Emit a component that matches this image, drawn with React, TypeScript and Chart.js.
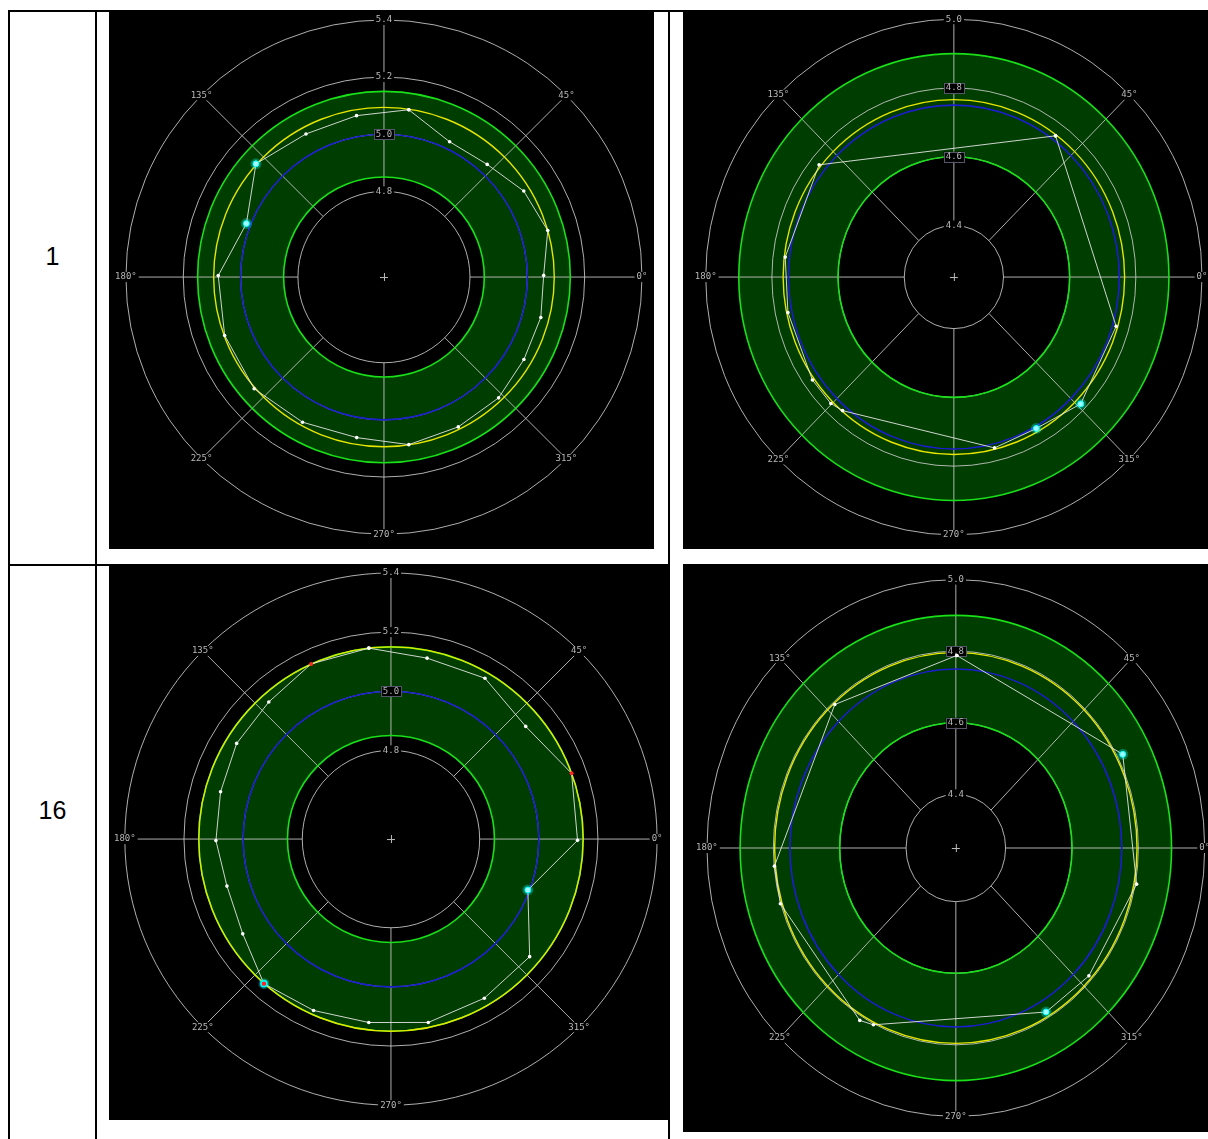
import React, { useEffect, useRef } from "react";
import { Chart, registerables } from "chart.js";

Chart.register(...registerables);

// ---------- shared labels ----------
const ROW_LABELS = ["1", "16"];
const ANGLE_LABELS = ["0°", "45°", "135°", "180°", "225°", "270°", "315°"];
const ANGLE_LABEL_DEG = [0, 45, 135, 180, 225, 270, 315];
const SPOKE_DEG = [0, 45, 90, 135, 180, 225, 270, 315];

// ---------- panel A (row 1, left) ----------
const A_ANGLES = [81.6, 99.6, 118.5, 138.4, 158.7, 179.5, 200.2, 220.8, 240.8, 260.4, 278.4, 296.3, 313.4, 329.4, 345.5, 0.6, 15.9, 31.7, 47.6, 64.2];
const A_RADII = [5.092, 5.073, 5.07, 5.097, 5.015, 5.078, 5.092, 5.098, 5.082, 5.07, 5.093, 5.085, 5.082, 5.067, 5.065, 5.057, 5.094, 5.073, 5.034, 5.026];
const A_MARKS = ["n", "n", "n", "c", "c", "n", "n", "n", "n", "n", "n", "n", "n", "n", "n", "n", "n", "n", "n", "n"];
const A_TICKS = [4.8, 5.0, 5.2, 5.4];
const A_CENTER_VALUE = 4.5;
const A_NOMINAL = 5.0;
const A_BAND = [4.85, 5.15];
const A_FIT = 5.094;

// ---------- panel B (row 1, right) ----------
const B_ANGLES = [53.2, 141.3, 173.5, 191.6, 215.0, 224.7, 229.1, 283.9, 299.5, 316.1, 343.7];
const B_RADII = [4.763, 4.772, 4.763, 4.762, 4.772, 4.773, 4.764, 4.762, 4.756, 4.782, 4.761];
const B_MARKS = ["n", "n", "n", "n", "n", "n", "n", "n", "c", "c", "n"];
const B_TICKS = [4.4, 4.6, 4.8, 5.0];
const B_CENTER_VALUE = 4.25;
const B_NOMINAL = 4.75;
const B_BAND = [4.6, 4.9];
const B_FIT = 4.766;

// ---------- panel C (row 16, left) ----------
const C_ANGLES = [96.6, 114.5, 131.7, 148.2, 164.5, 180.5, 196.0, 212.6, 228.7, 245.7, 263.1, 281.5, 300.4, 319.7, 339.6, 359.6, 20.0, 39.9, 59.7, 78.7];
const C_RADII = [5.15, 5.151, 5.121, 5.114, 5.098, 5.092, 5.077, 5.095, 5.151, 5.136, 5.125, 5.133, 5.124, 5.115, 4.994, 5.131, 5.15, 5.094, 5.13, 5.124];
const C_MARKS = ["n", "r", "n", "n", "n", "n", "n", "n", "cr", "n", "n", "n", "n", "n", "c", "n", "r", "n", "n", "n"];
const C_TICKS = [4.8, 5.0, 5.2, 5.4];
const C_CENTER_VALUE = 4.5;
const C_NOMINAL = 5.0;
const C_BAND = [4.85, 5.15];
const C_FIT = 5.15;

// ---------- panel D (row 16, right) ----------
const D_ANGLES = [89.7, 132.3, 185.3, 196.4, 239.0, 243.3, 300.7, 318.3, 349.5, 27.5];
const D_RADII = [4.788, 4.792, 4.799, 4.801, 4.812, 4.803, 4.783, 4.787, 4.804, 4.817];
const D_MARKS = ["n", "n", "n", "n", "n", "n", "c", "n", "n", "c"];
const D_TICKS = [4.4, 4.6, 4.8, 5.0];
const D_CENTER_VALUE = 4.25;
const D_NOMINAL = 4.75;
const D_BAND = [4.6, 4.9];
const D_FIT = 4.796;

type PanelData = {
  angles: number[];
  radii: number[];
  marks: string[];
  ticks: number[];
  base: number;
  nominal: number;
  band: number[];
  fit: number;
};

type Layout = { left: number; top: number; width: number; height: number; cx: number; cy: number; ppx: number; ppy: number };

const PANELS: { data: PanelData; layout: Layout }[] = [
  {
    data: { angles: A_ANGLES, radii: A_RADII, marks: A_MARKS, ticks: A_TICKS, base: A_CENTER_VALUE, nominal: A_NOMINAL, band: A_BAND, fit: A_FIT },
    layout: { left: 109, top: 12, width: 545, height: 537, cx: 275, cy: 265, ppx: 291, ppy: 290 },
  },
  {
    data: { angles: B_ANGLES, radii: B_RADII, marks: B_MARKS, ticks: B_TICKS, base: B_CENTER_VALUE, nominal: B_NOMINAL, band: B_BAND, fit: B_FIT },
    layout: { left: 683, top: 12, width: 525, height: 537, cx: 271, cy: 265, ppx: 336, ppy: 349 },
  },
  {
    data: { angles: C_ANGLES, radii: C_RADII, marks: C_MARKS, ticks: C_TICKS, base: C_CENTER_VALUE, nominal: C_NOMINAL, band: C_BAND, fit: C_FIT },
    layout: { left: 109, top: 566, width: 559, height: 554, cx: 282, cy: 273, ppx: 300, ppy: 300 },
  },
  {
    data: { angles: D_ANGLES, radii: D_RADII, marks: D_MARKS, ticks: D_TICKS, base: D_CENTER_VALUE, nominal: D_NOMINAL, band: D_BAND, fit: D_FIT },
    layout: { left: 683, top: 564, width: 525, height: 568, cx: 273, cy: 284, ppx: 337, ppy: 363 },
  },
];

const LABEL_FONT = "9px 'DejaVu Sans Mono'";

function drawBoxLabel(ctx: CanvasRenderingContext2D, text: string, x: number, y: number, border: boolean) {
  ctx.font = LABEL_FONT;
  const w = ctx.measureText(text).width;
  ctx.fillStyle = "#000";
  ctx.fillRect(x - w / 2 - 2, y - 5, w + 4, 10);
  if (border) {
    ctx.strokeStyle = "#55556a";
    ctx.lineWidth = 1;
    ctx.strokeRect(Math.round(x - w / 2 - 2) + 0.5, Math.round(y - 5) + 0.5, Math.round(w + 4), 10);
  }
  ctx.fillStyle = "#b8b8b8";
  ctx.textAlign = "center";
  ctx.textBaseline = "middle";
  ctx.fillText(text, x, y);
}

function makePolarPlugin(d: PanelData) {
  return {
    id: "polarGrid",
    beforeDraw(chart: any) {
      const ctx = chart.ctx as CanvasRenderingContext2D;
      ctx.save();
      ctx.fillStyle = "#000";
      ctx.fillRect(0, 0, chart.width, chart.height);
      ctx.restore();
    },
    beforeDatasetsDraw(chart: any) {
      const ctx = chart.ctx as CanvasRenderingContext2D;
      const xs = chart.scales.x;
      const ys = chart.scales.y;
      const cx = xs.getPixelForValue(0);
      const cy = ys.getPixelForValue(0);
      const rx = (v: number) => xs.getPixelForValue(v - d.base) - cx;
      const ry = (v: number) => cy - ys.getPixelForValue(v - d.base);
      const ring = (v: number, color: string, width: number) => {
        ctx.beginPath();
        ctx.ellipse(cx, cy, rx(v), ry(v), 0, 0, Math.PI * 2);
        ctx.strokeStyle = color;
        ctx.lineWidth = width;
        ctx.stroke();
      };
      ctx.save();
      // tolerance band fill
      ctx.beginPath();
      ctx.ellipse(cx, cy, rx(d.band[1]), ry(d.band[1]), 0, 0, Math.PI * 2);
      ctx.moveTo(cx + rx(d.band[0]), cy);
      ctx.ellipse(cx, cy, rx(d.band[0]), ry(d.band[0]), 0, 0, Math.PI * 2, true);
      ctx.fillStyle = "#003d00";
      ctx.fill("evenodd");

      // grid rings
      d.ticks.forEach((t) => ring(t, "rgba(205,205,205,0.85)", 1));

      // spokes
      const inner = d.ticks[0];
      const outer = d.ticks[d.ticks.length - 1];
      ctx.strokeStyle = "rgba(205,205,205,0.85)";
      ctx.lineWidth = 1;
      SPOKE_DEG.forEach((a) => {
        const c = Math.cos((a * Math.PI) / 180);
        const s = Math.sin((a * Math.PI) / 180);
        ctx.beginPath();
        ctx.moveTo(cx + rx(inner) * c, cy - ry(inner) * s);
        ctx.lineTo(cx + rx(outer) * c, cy - ry(outer) * s);
        ctx.stroke();
      });

      // centre cross
      ctx.strokeStyle = "#bdbdbd";
      ctx.beginPath();
      ctx.moveTo(cx - 4, cy + 0.5);
      ctx.lineTo(cx + 4, cy + 0.5);
      ctx.moveTo(cx + 0.5, cy - 4);
      ctx.lineTo(cx + 0.5, cy + 4);
      ctx.stroke();

      // band edges, nominal, fitted circle
      ring(d.band[0], "#19e019", 1.6);
      ring(d.band[1], "#19e019", 1.6);
      ring(d.nominal, "#1c1cd0", 1.6);
      ring(d.fit, "#e6e600", 1.4);

      // radial tick labels along the 90° spoke
      d.ticks.forEach((t) => {
        const inBand = t >= d.band[0] - 0.01 && t <= d.band[1] + 0.01;
        drawBoxLabel(ctx, t.toFixed(1), cx, cy - ry(t), inBand);
      });
      // angle labels on the outer ring
      ANGLE_LABEL_DEG.forEach((a, i) => {
        const c = Math.cos((a * Math.PI) / 180);
        const s = Math.sin((a * Math.PI) / 180);
        drawBoxLabel(ctx, ANGLE_LABELS[i], cx + rx(outer) * c, cy - ry(outer) * s, false);
      });

      // glow under highlighted markers
      const meta = chart.getDatasetMeta(0);
      meta.data.forEach((el: any, i: number) => {
        const m = d.marks[i % d.marks.length];
        if (m === "c" || m === "cr") {
          ctx.beginPath();
          ctx.arc(el.x, el.y, 5.5, 0, Math.PI * 2);
          ctx.fillStyle = "rgba(0,255,255,0.3)";
          ctx.fill();
        }
      });
      ctx.restore();
    },
  };
}

function PolarPanel({ data, layout }: { data: PanelData; layout: Layout }) {
  const ref = useRef<HTMLCanvasElement | null>(null);
  useEffect(() => {
    if (!ref.current) return;
    const pts = data.angles.map((a, i) => ({
      x: (data.radii[i] - data.base) * Math.cos((a * Math.PI) / 180),
      y: (data.radii[i] - data.base) * Math.sin((a * Math.PI) / 180),
    }));
    const marks = [...data.marks];
    pts.push(pts[0]);
    marks.push(marks[0]);
    const chart = new Chart(ref.current, {
      type: "scatter",
      data: {
        datasets: [
          {
            data: pts,
            showLine: true,
            borderColor: "rgba(228,228,228,0.9)",
            borderWidth: 1,
            tension: 0,
            pointRadius: marks.map((m) => (m === "n" ? 1.8 : m === "r" ? 2 : 3)),
            pointBackgroundColor: marks.map((m) => (m === "c" ? "#9fffff" : m === "r" || m === "cr" ? "#ff2525" : "#ffffff")),
            pointBorderColor: marks.map((m) => (m === "c" || m === "cr" ? "#00ffff" : m === "r" ? "#ff2525" : "#ffffff")),
            pointBorderWidth: marks.map((m) => (m === "cr" ? 1.6 : m === "c" ? 1 : 0)),
          },
        ],
      },
      options: {
        animation: false,
        responsive: false,
        devicePixelRatio: 1,
        events: [],
        layout: { padding: 0 },
        plugins: { legend: { display: false }, tooltip: { enabled: false }, title: { display: false } },
        scales: {
          x: { type: "linear", display: false, min: -layout.cx / layout.ppx, max: (layout.width - layout.cx) / layout.ppx },
          y: { type: "linear", display: false, min: -(layout.height - layout.cy) / layout.ppy, max: layout.cy / layout.ppy },
        },
      },
      plugins: [makePolarPlugin(data)],
    } as any);
    return () => chart.destroy();
  }, [data, layout]);
  return (
    <canvas
      ref={ref}
      width={layout.width}
      height={layout.height}
      style={{ position: "absolute", left: layout.left, top: layout.top, width: layout.width, height: layout.height }}
    />
  );
}

const line = (left: number, top: number, width: number, height: number) => (
  <div style={{ position: "absolute", left, top, width, height, background: "#000" }} />
);

export default function App() {
  return (
    <div style={{ position: "absolute", left: 0, top: 0, width: 1208, height: 1139, overflow: "hidden", background: "#fff" }}>
      {line(8, 10, 1200, 2)}
      {line(8, 10, 2, 1129)}
      {line(95, 10, 2, 1129)}
      {line(8, 564, 662, 2)}
      {line(668, 10, 2, 1129)}
      <div style={{ position: "absolute", left: 10, top: 244, width: 85, textAlign: "center", font: "25px 'Liberation Sans', Arial, sans-serif", lineHeight: "25px", color: "#000" }}>
        {ROW_LABELS[0]}
      </div>
      <div style={{ position: "absolute", left: 10, top: 798, width: 85, textAlign: "center", font: "25px 'Liberation Sans', Arial, sans-serif", lineHeight: "25px", color: "#000" }}>
        {ROW_LABELS[1]}
      </div>
      {PANELS.map((p, i) => (
        <PolarPanel key={i} data={p.data} layout={p.layout} />
      ))}
    </div>
  );
}
